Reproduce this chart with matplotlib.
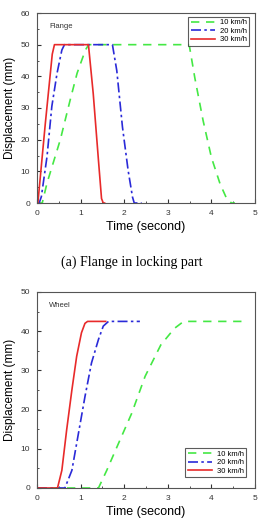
import matplotlib
matplotlib.use("Agg")
import matplotlib.pyplot as plt
from matplotlib.ticker import MultipleLocator

plt.rcParams['font.family'] = ['Liberation Sans', 'DejaVu Sans']

# (a) flange in locking part
fl_t10 = [0.0, 0.12, 0.23, 0.535, 0.76, 0.92, 1.11, 1.185, 3.49, 3.62, 3.81, 4.0, 4.2, 4.35, 4.46, 4.54]
fl_y10 = [0, 0, 6.3, 20, 32.5, 41, 48.3, 50, 50, 39.5, 26, 14.4, 6, 1.4, 0, 0]
fl_t20 = [0.0, 0.05, 0.1, 0.23, 0.34, 0.46, 0.57, 0.63, 1.73, 1.83, 1.96, 2.09, 2.19, 2.23, 2.4]
fl_y20 = [0, 0, 2, 14.7, 30.5, 41, 48.3, 50, 50, 41.8, 24, 10.3, 1.9, 0, 0]
fl_t30 = [0.0, 0.02, 0.19, 0.35, 0.4, 1.18, 1.29, 1.41, 1.48, 1.52, 1.55]
fl_y30 = [0, 0, 25, 47, 50, 50, 34.5, 13.4, 1.4, 0, 0]

# (b) wheel
wh_t10 = [0.0, 1.41, 1.6, 1.87, 2.17, 2.48, 2.84, 3.15, 3.34, 3.4, 4.7]
wh_y10 = [0, 0, 4.5, 11.4, 19, 28.5, 36.5, 40.7, 42.3, 42.5, 42.5]
wh_t20 = [0.0, 0.64, 0.8, 0.95, 1.1, 1.25, 1.41, 1.52, 1.64, 2.36]
wh_y20 = [0, 0, 4.5, 13.9, 23.3, 31.9, 37.9, 41.3, 42.5, 42.5]
wh_t30 = [0.0, 0.47, 0.57, 0.68, 0.8, 0.91, 1.02, 1.1, 1.16, 1.575]
wh_y30 = [0, 0, 4.5, 14.8, 25, 33.6, 39.6, 42, 42.5, 42.5]

labels = ['10 km/h', '20 km/h', '30 km/h']
colors = ['#44e844', '#2a2ad8', '#e82a2a']
styles = [(0, (5, 4)), (0, (6, 2, 1.5, 2)), '-']

fig = plt.figure(figsize=(2.63, 5.30), dpi=100)
ax1 = fig.add_axes([37/263, 1 - 203/530, 218/263, 190/530])
ax2 = fig.add_axes([37/263, 1 - 488/530, 218/263, 196/530])


def panel(ax, series, ymax, ystep, name, loc, anchor):
    for (t, y), lab, c, ls in zip(series, labels, colors, styles):
        ax.plot(t, y, color=c, linestyle=ls, linewidth=1.2, label=lab)
    ax.set_xlim(0, 5)
    ax.set_ylim(0, ymax)
    ax.xaxis.set_major_locator(MultipleLocator(1))
    ax.xaxis.set_minor_locator(MultipleLocator(0.5))
    ax.yaxis.set_major_locator(MultipleLocator(ystep))
    ax.yaxis.set_minor_locator(MultipleLocator(ystep / 2))
    ax.tick_params(which='both', direction='in', labelsize=6, colors='#333333')
    ax.tick_params(which='major', length=3, pad=5)
    ax.tick_params(which='minor', length=1.5)
    for sp in ax.spines.values():
        sp.set_color('#555555')
        sp.set_linewidth(0.8)
    ax.set_xlabel('Time (second)', fontsize=9, labelpad=3)
    ax.set_ylabel('Displacement (mm)', fontsize=8.5, labelpad=3)
    ax.text(0.055, 0.93, name, transform=ax.transAxes, fontsize=5.5,
            color='#333333', va='center')
    leg = ax.legend(loc=loc, bbox_to_anchor=anchor, fontsize=5.5, frameon=True,
                    fancybox=False, handlelength=3.2, handletextpad=0.6,
                    borderpad=0.3, labelspacing=0.15, borderaxespad=0)
    leg.get_frame().set_edgecolor('#333333')
    leg.get_frame().set_linewidth(0.8)


panel(ax1, [(fl_t10, fl_y10), (fl_t20, fl_y20), (fl_t30, fl_y30)],
      60, 10, 'Flange', 'upper right', (0.972, 0.98))
panel(ax2, [(wh_t10, wh_y10), (wh_t20, wh_y20), (wh_t30, wh_y30)],
      50, 10, 'Wheel', 'lower right', (0.959, 0.056))

fig.text(0.5, 1 - 262/530, '(a) Flange in locking part', ha='center',
         va='center', fontsize=10, family='Liberation Serif')

fig.savefig('out.png', dpi=100)
